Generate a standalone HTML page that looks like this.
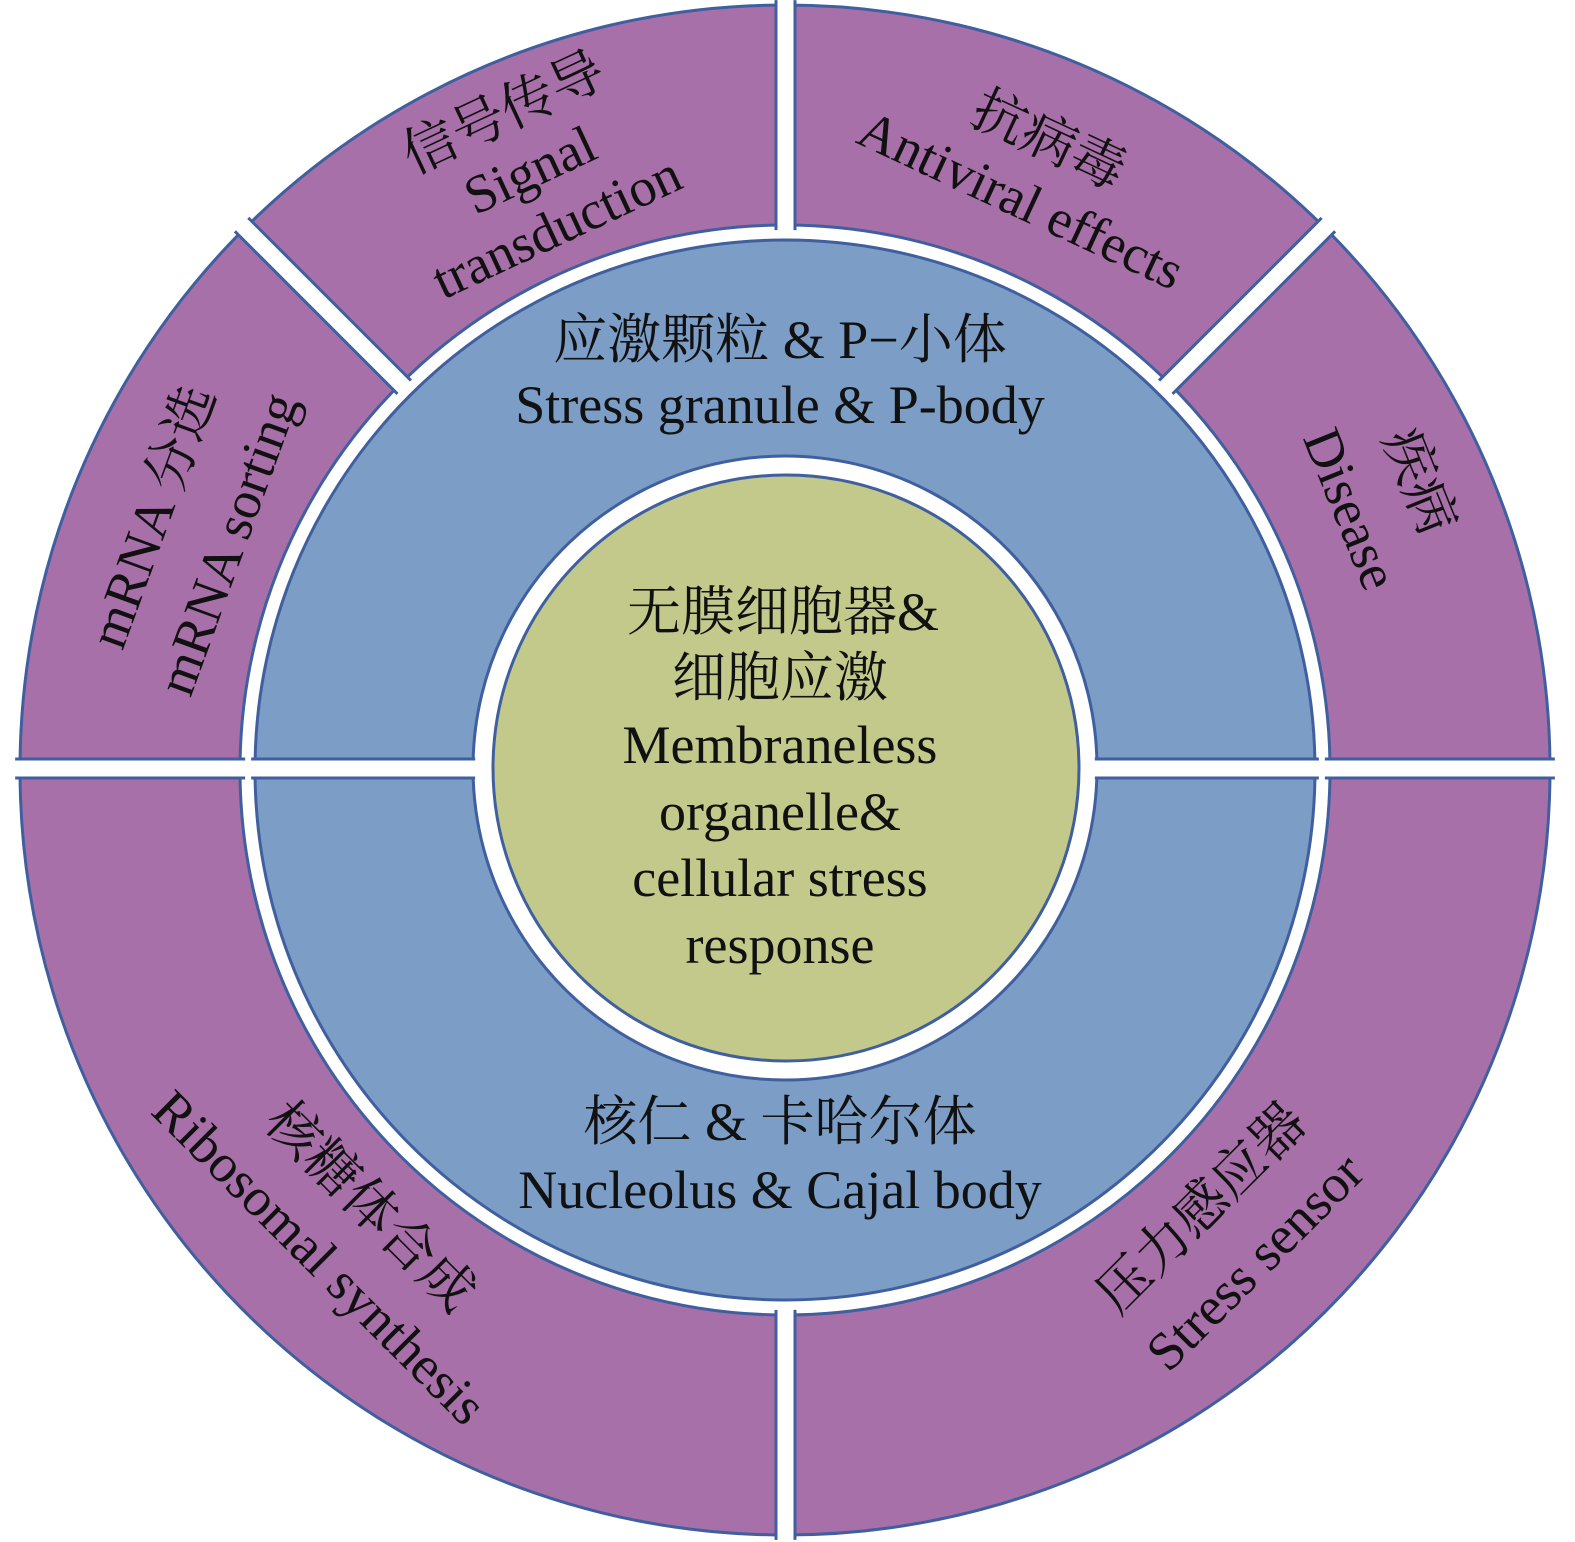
<!DOCTYPE html>
<html><head><meta charset="utf-8"><style>
html,body{margin:0;padding:0;background:#fff;}
svg{display:block;}
.t text{fill:#111;text-anchor:middle;dominant-baseline:central;}
</style></head><body>
<svg width="1575" height="1542" viewBox="0 0 1575 1542" xmlns="http://www.w3.org/2000/svg">
<defs>
<clipPath id="outerRing"><path clip-rule="evenodd" d="M785,0 a770,770 0 1,0 0.01,0 Z M785,230 a540,540 0 1,0 0.01,0 Z"/></clipPath>
<clipPath id="blueRing"><path clip-rule="evenodd" d="M785,236 a534,534 0 1,0 0.01,0 Z M785,460 a310,310 0 1,0 0.01,0 Z"/></clipPath>
</defs>
<path fill-rule="evenodd" fill="#a870a8" stroke="#3f5f9f" stroke-width="3" d="M785,5 a765,765 0 1,0 0.01,0 Z M785,225 a545,545 0 1,0 0.01,0 Z"/>
<g clip-path="url(#outerRing)" fill="#fff" stroke="#3f5f9f" stroke-width="3">
<rect x="-10" y="759" width="1600" height="19"/>
<rect x="776" y="-20" width="19" height="400"/>
<rect x="776" y="1160" width="19" height="420"/>
<rect x="-10" y="-9.5" width="800" height="19" transform="translate(785,768) rotate(-135)"/>
<rect x="-10" y="-9.5" width="800" height="19" transform="translate(785,768) rotate(-45)"/>
</g>
<path fill-rule="evenodd" fill="#7b9dc6" stroke="#3f5f9f" stroke-width="3" d="M785,240 a530,530 0 1,0 0.01,0 Z M785,456 a312,312 0 1,0 0.01,0 Z"/>
<g clip-path="url(#blueRing)" fill="#fff" stroke="#3f5f9f" stroke-width="3">
<rect x="-10" y="759" width="1600" height="19"/>
</g>
<circle cx="786" cy="768" r="293" fill="#c3c98b" stroke="#3f5f9f" stroke-width="3"/>

<g class="t" font-size="54" font-family="'Liberation Serif', 'Times New Roman', 'Noto Serif CJK SC', serif">
<text x="783" y="612">无膜细胞器&amp;</text>
<text x="780" y="678">细胞应激</text>
<text x="780" y="745">Membraneless</text>
<text x="780" y="812">organelle&amp;</text>
<text x="780" y="878">cellular stress</text>
<text x="780" y="945">response</text>

<text x="780" y="340">应激颗粒 &amp; P−小体</text>
<text x="780" y="405">Stress granule &amp; P-body</text>
<text x="780" y="1122">核仁 &amp; 卡哈尔体</text>
<text x="780" y="1190">Nucleolus &amp; Cajal body</text>

<g transform="translate(530,170) rotate(-25)">
<text x="0" y="-63">信号传导</text><text x="0" y="0">Signal</text><text x="0" y="63">transduction</text>
</g>
<g transform="translate(1035,170) rotate(25)">
<text x="0" y="-33">抗病毒</text><text x="0" y="33">Antiviral effects</text>
</g>
<g transform="translate(190,530) rotate(-70)">
<text x="0" y="-40">mRNA 分选</text><text x="0" y="40">mRNA sorting</text>
</g>
<g transform="translate(1385,495) rotate(68)">
<text x="0" y="-37">疾病</text><text x="0" y="37">Disease</text>
</g>
<g transform="translate(345,1232) rotate(45)">
<text x="0" y="-36">核糖体合成</text><text x="0" y="36">Ribosomal synthesis</text>
</g>
<g transform="translate(1228,1235) rotate(-45)">
<text x="0" y="-38">压力感应器</text><text x="0" y="38">Stress sensor</text>
</g>
</g>
</svg>
</body></html>
